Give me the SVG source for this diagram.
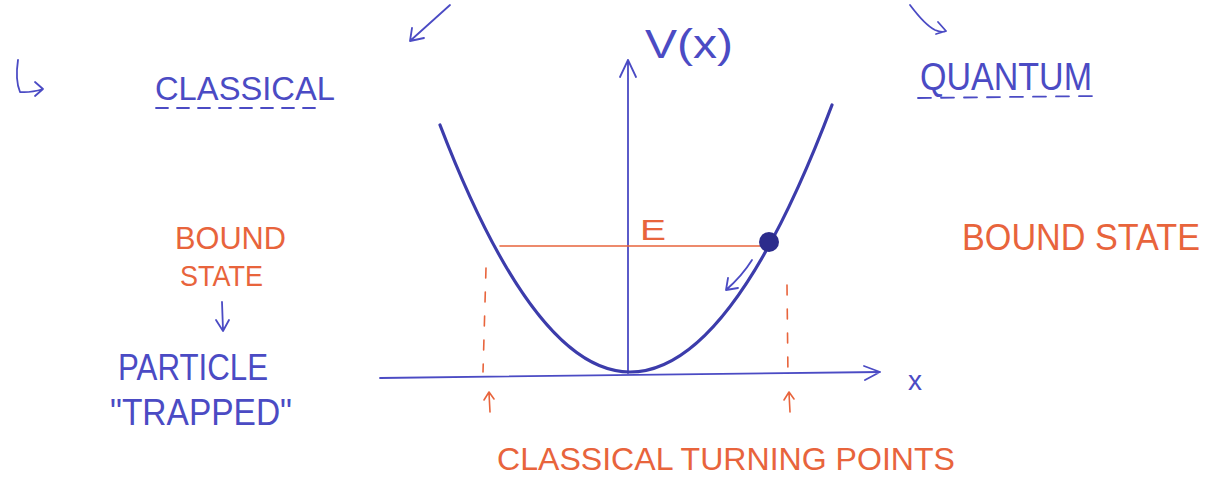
<svg xmlns="http://www.w3.org/2000/svg" width="1213" height="481" viewBox="0 0 1213 481">
<style>
.b{fill:none;stroke:#4b4bc4;stroke-width:1.8;stroke-linecap:round;stroke-linejoin:round}
.o{fill:none;stroke:#e8643c;stroke-width:1.6;stroke-linecap:round;stroke-linejoin:round}
.tb{font-family:"Liberation Sans",Arial,sans-serif;fill:#4b4bc4}
.to{font-family:"Liberation Sans",Arial,sans-serif;fill:#e8643c}
</style>
<rect width="1213" height="481" fill="#ffffff"/>
<g id="connectors">
<path class="b" d="M450 5 L410 41 M410 41 L412 28 M410 41 L424 38"/>
<path class="b" d="M910 5 Q925 25 935 30 Q942 33 946 31 M946 31 L938 22 M946 31 L936 34"/>
<path class="b" stroke-width="2.2" d="M18 60 Q15 80 20 92 Q30 93 43 89 M43 89 L35 82 M43 89 L35 96"/>
<path class="b" d="M628 373 L628 60 M620 77 L628 60 L636 77"/>
<path class="b" d="M380 378 L880 372 M864 366 L880 372 L865 380"/>
<path class="b" d="M222 302 L223 330 M216 320 L223 331 L229 320"/>
<path class="b" d="M752 260 Q742 276 726 290 M726 290 L728 278 M726 290 L738 288"/>
<path class="b" d="M156 108 L322 108" stroke-dasharray="12 9" stroke-width="1.4"/>
<path class="b" d="M918 98 L1097 96" stroke-dasharray="13 10" stroke-width="1.4"/>
<path class="o" d="M500 246 L760 246"/>
<path class="o" d="M486 268 L483 372" stroke-dasharray="10 14" stroke-width="1.2"/>
<path class="o" d="M787 285 L788 378" stroke-dasharray="10 14" stroke-width="1.2"/>
<path class="o" d="M490 412 L489 393 M484 400 L489 392 L494 399"/>
<path class="o" d="M790 412 L789 393 M784 400 L789 392 L794 399"/>
</g>
<g id="parabola">
<path d="M440 125 Q535 372 630 372 Q731 372 832 105" fill="none" stroke="#3c3cab" stroke-width="3.2" stroke-linecap="round"/>
</g>
<g id="ball"><circle cx="769" cy="242" r="10" fill="#2c2c8c"/></g>
<g id="labels">
<text class="tb" x="155" y="100" font-size="33" textLength="180" lengthAdjust="spacingAndGlyphs">CLASSICAL</text>
<text class="tb" x="645" y="58" font-size="40" textLength="88" lengthAdjust="spacingAndGlyphs">V(x)</text>
<text class="tb" x="920" y="90" font-size="38" textLength="172" lengthAdjust="spacingAndGlyphs">QUANTUM</text>
<text class="to" x="640" y="240" font-size="29" textLength="26" lengthAdjust="spacingAndGlyphs">E</text>
<text class="to" x="175" y="249" font-size="32" textLength="111" lengthAdjust="spacingAndGlyphs">BOUND</text>
<text class="to" x="180" y="286" font-size="30" textLength="83" lengthAdjust="spacingAndGlyphs">STATE</text>
<text class="tb" x="118" y="380" font-size="36" textLength="150" lengthAdjust="spacingAndGlyphs">PARTICLE</text>
<text class="tb" x="110" y="425" font-size="36" textLength="182" lengthAdjust="spacingAndGlyphs">"TRAPPED"</text>
<text class="tb" x="908" y="390" font-size="28">x</text>
<text class="to" x="497" y="470" font-size="32" textLength="458" lengthAdjust="spacingAndGlyphs">CLASSICAL TURNING POINTS</text>
<text class="to" x="962" y="250" font-size="36" textLength="238" lengthAdjust="spacingAndGlyphs">BOUND  STATE</text>
</g>
</svg>
